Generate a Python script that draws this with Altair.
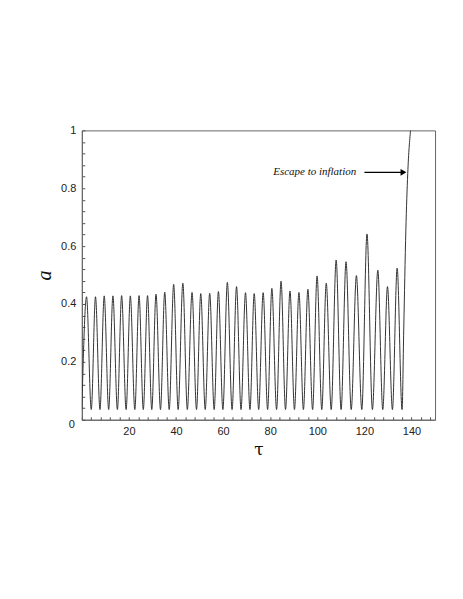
import altair as alt
import pandas as pd

# --- data ---
peak_tau = [2.0, 5.8, 9.5, 13.2, 16.9, 20.6, 24.3, 27.9, 31.5, 35.2,
            39.0, 42.9, 46.8, 50.5, 54.3, 58.0, 61.8, 65.7, 69.5, 73.2,
            77.0, 80.7, 84.6, 88.4, 92.2, 96.0, 99.9, 103.8, 108.0, 112.2,
            116.6, 121.1, 125.7, 129.8, 133.9]
peak_a = [0.425, 0.425, 0.428, 0.428, 0.429, 0.428, 0.429, 0.429, 0.434, 0.441,
          0.468, 0.472, 0.440, 0.436, 0.437, 0.443, 0.475, 0.460, 0.439, 0.436,
          0.439, 0.454, 0.479, 0.445, 0.440, 0.451, 0.497, 0.472, 0.552, 0.546,
          0.498, 0.642, 0.517, 0.460, 0.524]
trough_tau = [0.0, 4.0, 7.7, 11.4, 15.1, 18.8, 22.5, 26.1, 29.7, 33.4,
              37.1, 40.9, 44.8, 48.7, 52.4, 56.2, 59.9, 63.8, 67.6, 71.4,
              75.1, 78.9, 82.7, 86.5, 90.3, 94.1, 98.0, 101.9, 105.9, 110.1,
              114.4, 118.9, 123.4, 127.8, 131.9, 136.0]
trough_a = [0.035] * 36
escape_tau = [136.7, 137.6, 138.4, 139.6]
escape_a = [0.31, 0.655, 0.85, 1.0]

label_text = ["Escape to inflation"]
label_tau = [116.5]
label_a = [0.855]
arrow_tau = [120.0]
arrow_tau2 = [135.8]
arrowhead_tau = [136.6]

x_ticks = list(range(0, 151, 4))
y_ticks = [round(i * 0.04, 2) for i in range(26)]

# --- build table ---
pts = [(t, a) for t, a in zip(peak_tau, peak_a)]
pts += [(t, a) for t, a in zip(trough_tau, trough_a)]
pts += [(t, a) for t, a in zip(escape_tau, escape_a)]
pts.sort()
df = pd.DataFrame(pts, columns=["tau", "a"])

ann = pd.DataFrame({"text": label_text, "tau": label_tau, "a": label_a,
                    "tau2": arrow_tau2, "tau0": arrow_tau, "head": arrowhead_tau})
zero = pd.DataFrame({"tau": [0], "a": [0], "t": ["0"]})

xs = alt.Scale(domain=[0, 150], nice=False)
ys = alt.Scale(domain=[0, 1], nice=False)

x_axis = alt.Axis(values=x_ticks, tickCount=100, grid=False, format="d", labelOverlap=False,
                  labelExpr="datum.value % 20 === 0 && datum.value > 0 ? datum.label : ''",
                  tickSize={"expr": "-3"}, tickColor="#555", domainColor="#666",
                  labelFont="Liberation Sans", labelFontSize=11, labelColor="#222",
                  labelPadding=9, labelFlush=False,
                  title="τ", titleFont="DejaVu Serif", titleFontSize=17,
                  titleFontWeight="normal", titleColor="#111",
                  titleX=177, titleY=30, titleBaseline="middle", titleAlign="center")
y_axis = alt.Axis(values=y_ticks, tickCount=100, grid=False, format=".1~f", labelOverlap=False,
                  labelExpr="abs(datum.value*5 - round(datum.value*5)) < 0.001 && datum.value > 0 ? datum.label : ''",
                  tickSize={"expr": "-3"}, tickColor="#555", domainColor="#666",
                  labelFont="Liberation Sans", labelFontSize=11, labelColor="#222",
                  labelPadding=9, labelFlush=False,
                  title="a", titleFont="Liberation Serif", titleFontSize=20,
                  titleFontStyle="italic", titleFontWeight="normal", titleColor="#111",
                  titleAngle=270, titleX=-37, titleY=145,
                  titleBaseline="middle", titleAlign="center")

line = alt.Chart(df).mark_line(color="#333", strokeWidth=1, interpolate="monotone", clip=True).encode(
    x=alt.X("tau:Q", scale=xs, axis=x_axis),
    y=alt.Y("a:Q", scale=ys, axis=y_axis),
)

text = alt.Chart(ann).mark_text(align="right", baseline="middle", font="Liberation Serif",
                                fontStyle="italic", fontSize=11, color="#111").encode(
    x=alt.X("tau:Q", scale=xs), y=alt.Y("a:Q", scale=ys), text="text:N")

arrow = alt.Chart(ann).mark_rule(color="#000", strokeWidth=1.2).encode(
    x=alt.X("tau0:Q", scale=xs), x2="tau2:Q", y=alt.Y("a:Q", scale=ys))

head = alt.Chart(ann).mark_point(shape="triangle-right", filled=True, color="#000",
                                 size=45, opacity=1).encode(
    x=alt.X("head:Q", scale=xs), y=alt.Y("a:Q", scale=ys))

zero_lbl = alt.Chart(zero).mark_text(font="Liberation Sans", fontSize=11, color="#222",
                                     dx=-10, dy=5).encode(
    x=alt.X("tau:Q", scale=xs), y=alt.Y("a:Q", scale=ys), text="t:N")

chart = alt.layer(line, text, arrow, head, zero_lbl).properties(
    width=354, height=290,
    autosize=alt.AutoSizeParams(type="none"),
    padding={"left": 74, "top": 122, "right": 20, "bottom": 170},
    background="white",
).configure_view(stroke="#666", strokeWidth=1)

chart.save("out.html", embed_options={"renderer": "svg", "actions": False})
